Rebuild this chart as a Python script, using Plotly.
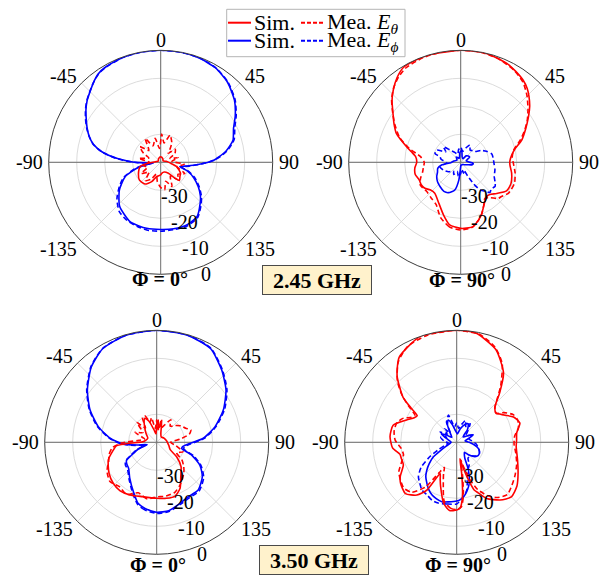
import plotly.graph_objects as go
import math

# ---------------- DATA (theta in deg, clockwise from top; r in dB) ----------------
# 2.45 GHz, Phi = 0 deg
tl_sim_eth_theta = [-180,-164,-155,-144,-130,-118,-102,-95,-80,-60,-30,0,30,60,80,95,105,119,126,134,138,145,160,175,180]
tl_sim_eth_r     = [-35.5,-34.7,-32.4,-30.4,-30.1,-31.0,-32.5,-35.0,-38.5,-39.0,-38.5,-38.0,-38.5,-39.0,-38.0,-36.5,-34.1,-31.9,-31.5,-30.7,-32.3,-35.2,-36.3,-36.0,-35.5]
tl_mea_eth_theta = [-180,-170,-160,-150,-140,-130,-120,-110,-100,-90,-80,-70,-62,-53,-45,-33,-25,-13,-5,2,10,19,25,30,36,40,48,58,67,75,85,95,105,115,125,135,145,155,165,172,180]
tl_mea_eth_r     = [-31.0,-33.0,-35.5,-33.0,-31.5,-34.5,-32.0,-35.0,-33.5,-36.0,-32.0,-35.5,-33.0,-30.7,-34.0,-29.8,-33.5,-31.2,-35.0,-29.9,-33.0,-29.7,-31.0,-32.1,-34.5,-35.8,-33.0,-34.0,-36.4,-33.5,-36.0,-31.5,-34.0,-30.5,-32.5,-31.0,-34.0,-30.5,-33.0,-30.0,-31.0]
tl_sim_eph_theta = [-180,-168,-153,-137,-124,-112,-104,-99,-95,-91,-88,-85,-80,-75,-70,-65,-60,-55,-50,-45,-40,-35,-30,-20,-10,0,10,20,30,40,50,58,65,73,80,85,88,91,94,98,103,108,115,123,130,136,146,157,169,180]
tl_sim_eph_r     = [-16.0,-15.9,-16.1,-18.5,-22.2,-26.3,-31.2,-35.5,-37.5,-32.5,-28.5,-24.5,-18.8,-15.1,-12.8,-11.0,-9.3,-7.4,-5.7,-4.3,-2.7,-1.3,-0.7,-0.2,0,0,0,-0.3,-1.0,-2.8,-5.6,-8.6,-11.3,-13.0,-16.2,-19.3,-21.2,-24.0,-27.1,-30.5,-33.0,-30.0,-27.0,-24.0,-21.5,-19.7,-16.7,-15.8,-15.8,-16.0]
tl_mea_eph_theta = [-180,-170,-160,-150,-140,-130,-120,-112,-104,-99,-95,-91,-88,-85,-80,-75,-70,-65,-60,-55,-50,-45,-40,-35,-30,-20,-10,0,10,20,30,40,50,58,65,73,80,85,88,91,94,98,103,108,115,123,130,136,146,157,169,180]
tl_mea_eph_r     = [-15.4,-15.3,-15.6,-16.0,-17.0,-19.6,-23.0,-25.8,-30.5,-34.0,-36.0,-31.8,-28.0,-24.0,-18.6,-15.0,-12.8,-10.8,-9.0,-7.2,-5.6,-4.2,-2.7,-1.4,-0.8,-0.2,0,0,0,-0.2,-0.9,-2.6,-5.3,-8.2,-10.8,-12.6,-15.8,-18.9,-21.3,-24.2,-27.0,-30.0,-32.4,-29.5,-26.4,-23.5,-21.0,-19.2,-16.3,-15.4,-15.5,-15.4]

# 2.45 GHz, Phi = 90 deg
tr_sim_eth_theta = [-180,-170,-162,-152,-140,-132,-126,-120,-113,-105,-97,-90,-83,-78,-74,-66,-60,-54,-48,-43,-37,-31,-24,-17,0,13,25,31,37,42,46,51,56,63,70,76,82,88,93,102,113,122,131,138,143,150,155,160,165,169,175,180]
tr_sim_eth_r     = [-16.4,-17.3,-20.2,-23.4,-25.6,-25.3,-24.2,-23.8,-23.9,-23.2,-23.5,-24.3,-23.8,-22.0,-19.9,-14.9,-12.5,-10.1,-7.0,-4.7,-2.2,-0.4,-0.1,0,0,0,-1.0,-2.0,-3.1,-4.5,-6.1,-8.3,-10.8,-14.0,-16.8,-20.0,-21.6,-22.4,-22.4,-21.4,-20.5,-20.7,-23.0,-24.5,-24.6,-23.1,-21.3,-19.3,-17.8,-16.6,-16.4,-16.4]
tr_mea_eth_theta = [-180,-170,-160,-150,-140,-130,-120,-112,-104,-97,-90,-82,-75,-68,-60,-54,-48,-42,-36,-30,-20,-10,0,10,20,30,38,45,52,58,64,70,77,84,91,101,111,118,123,130,134,140,146,152,158,164,170,180]
tr_mea_eth_r     = [-15.8,-16.6,-19.0,-22.5,-23.5,-24.0,-23.4,-24.5,-26.0,-26.6,-27.0,-25.5,-21.0,-16.5,-12.8,-10.0,-6.8,-4.2,-2.3,-1.0,-0.3,0,0,0,-0.6,-2.0,-3.8,-6.5,-9.5,-12.0,-14.7,-17.5,-20.6,-21.5,-21.2,-20.2,-19.4,-19.5,-19.7,-21.0,-21.4,-23.5,-24.5,-22.5,-20.0,-18.0,-16.4,-15.8]
tr_sim_eph_theta = [-180,-174,-168,-158,-150,-140,-130,-121,-113,-105,-98,-92,-80,-60,-40,-20,-5,5,15,30,40,50,60,75,88,95,102,110,125,140,160,175,180]
tr_sim_eph_r     = [-38.5,-33.6,-29.9,-28.3,-28.0,-28.6,-29.2,-30.0,-31.0,-31.5,-33.1,-36.5,-37.5,-38.5,-37.5,-38.5,-36.5,-35.8,-38.0,-38.5,-37.0,-36.5,-36.3,-38.0,-37.0,-35.5,-35.8,-37.5,-38.5,-39.0,-39.0,-39.0,-38.5]
tr_mea_eph_theta = [-180,-170,-160,-150,-140,-128,-114,-102,-92,-82,-75,-71,-63,-55,-48,-41,-30,-20,-10,0,10,20,28,38,46,53,60,67,75,83,92,102,113,120,125,131,136,140,145,149,153,158,165,172,180]
tr_mea_eph_r     = [-36.0,-35.0,-36.5,-35.0,-36.0,-34.5,-33.2,-32.4,-35.0,-33.0,-32.3,-30.3,-30.4,-33.5,-31.7,-34.2,-36.0,-37.0,-35.5,-34.5,-36.0,-34.5,-33.0,-34.5,-34.0,-33.6,-31.5,-30.0,-28.5,-28.3,-28.1,-27.5,-27.0,-25.8,-25.0,-25.5,-25.0,-26.5,-28.0,-31.0,-34.5,-37.0,-36.0,-37.5,-36.0]

# 3.50 GHz, Phi = 0 deg
bl_sim_eth_theta = [-180,-165,-153,-143,-133,-123,-110,-100,-95,-92,-88,-80,-65,-50,-38,-30,-26,-20,-12,-5,0,4,8,14,25,40,60,80,95,105,118,126,135,145,153,161,170,180]
bl_sim_eth_r     = [-20.0,-19.9,-18.9,-18.3,-18.7,-19.7,-21.6,-24.3,-25.5,-30.0,-35.0,-36.0,-36.5,-35.0,-33.0,-31.0,-30.5,-32.0,-35.5,-37.0,-34.0,-32.0,-35.0,-33.0,-36.5,-37.5,-37.0,-36.5,-36.0,-35.5,-34.6,-31.2,-27.7,-25.0,-21.6,-19.7,-19.7,-20.0]
bl_mea_eth_theta = [-180,-170,-160,-150,-140,-130,-120,-112,-104,-97,-91,-85,-75,-65,-55,-45,-38,-30,-24,-18,-12,-6,0,6,12,18,25,32,40,48,56,64,70,76,82,90,100,110,118,125,132,138,145,152,160,170,180]
bl_mea_eth_r     = [-20.5,-19.5,-20.8,-18.5,-19.3,-18.2,-19.5,-21.5,-22.5,-24.0,-27.5,-33.0,-35.5,-31.5,-34.0,-30.0,-33.5,-29.8,-29.6,-32.5,-31.0,-35.0,-32.0,-35.5,-31.5,-34.5,-33.0,-30.5,-32.5,-31.0,-29.5,-28.5,-27.0,-28.0,-31.5,-35.0,-33.0,-30.0,-32.0,-29.0,-27.0,-25.5,-24.0,-22.5,-21.0,-20.5,-20.5]
bl_sim_eph_theta = [-180,-170,-163,-155,-143,-133,-126,-121,-117,-110,-104,-98,-93,-85,-75,-64,-53,-41,-30,-16,0,16,30,42,53,64,75,85,93,99,104,110,118,127,139,150,159,170,180]
bl_sim_eph_r     = [-15.0,-16.0,-17.2,-20.4,-24.0,-26.3,-26.8,-27.4,-30.0,-33.0,-36.5,-33.0,-28.1,-23.3,-18.4,-13.5,-9.0,-4.4,-1.4,-0.2,0,-0.2,-1.4,-5.3,-9.0,-13.5,-18.4,-23.3,-28.7,-30.5,-30.8,-26.7,-22.5,-19.6,-17.4,-17.5,-16.7,-15.2,-15.0]
bl_mea_eph_theta = [-180,-170,-163,-155,-143,-133,-126,-121,-117,-110,-104,-98,-93,-85,-75,-64,-53,-41,-30,-16,0,16,30,42,53,64,75,85,93,99,104,110,118,127,139,150,159,170,180]
bl_mea_eph_r     = [-14.6,-15.5,-16.8,-19.8,-23.6,-25.8,-26.2,-27.0,-29.5,-32.5,-35.5,-32.2,-27.6,-23.0,-18.0,-13.2,-8.7,-4.2,-1.3,-0.2,0,-0.1,-1.2,-5.0,-8.6,-13.0,-18.0,-22.8,-28.0,-30.0,-30.0,-26.0,-22.0,-19.0,-16.9,-17.0,-16.3,-14.9,-14.6]

# 3.50 GHz, Phi = 90 deg
br_sim_eth_theta = [-180,-174,-168,-160,-156,-152,-148,-143,-135,-126,-121,-113,-106,-102,-95,-85,-75,-66,-60,-56,-53,-50,-42,-34,-19,0,10,23,34,41,47,53,60,66,73,81,88,94,106,117,126,135,143,152,157,160,163,166,169,171,174,177,180]
br_sim_eth_r     = [-15.8,-15.5,-17.7,-23.2,-25.5,-27.4,-19.9,-16.4,-14.1,-15.2,-16.5,-19.3,-19.4,-19.3,-17.0,-16.1,-16.5,-20.4,-22.5,-23.0,-19.5,-15.0,-8.2,-3.3,0,0,-0.4,-4.1,-10.1,-16.6,-21.3,-22.5,-20.5,-17.8,-16.4,-18.3,-18.6,-18.7,-17.4,-15.4,-13.4,-12.4,-14.2,-17.3,-20.4,-22.0,-26.5,-31.0,-34.0,-28.5,-20.5,-16.5,-15.8]
br_mea_eth_theta = [-180,-175,-168,-162,-157,-154,-150,-145,-138,-131,-124,-117,-110,-103,-96,-88,-80,-72,-66,-61,-57,-53,-49,-44,-36,-27,-15,0,12,22,30,38,44,49,54,58,64,70,77,84,92,100,110,120,128,136,144,150,156,160,164,167,170,173,176,180]
br_mea_eth_r     = [-16.0,-16.3,-18.5,-24.5,-28.0,-30.0,-27.5,-20.5,-16.0,-15.0,-15.8,-16.8,-19.0,-20.5,-20.0,-18.0,-17.3,-17.5,-19.0,-21.5,-22.2,-18.5,-14.0,-9.5,-4.5,-1.5,-0.3,0,-0.6,-3.4,-7.5,-14.5,-19.5,-22.0,-22.5,-20.0,-17.5,-16.8,-17.4,-19.2,-19.5,-18.6,-17.2,-16.0,-15.0,-14.0,-15.6,-18.0,-21.5,-25.5,-30.5,-33.5,-28.0,-20.5,-16.8,-16.0]
br_sim_eph_theta = [-180,-172,-166,-160,-155,-149,-144,-138,-133,-128,-122,-117,-110,-100,-90,-75,-62,-55,-45,-35,-28,-21,-14,-5,5,15,25,32,40,50,60,66,72,80,90,102,109,116,122,128,133,137,142,147,153,157,163,167,171,176,180]
br_sim_eph_r     = [-19.0,-18.5,-18.1,-18.6,-19.2,-20.5,-21.9,-23.5,-25.4,-27.5,-30.2,-33.5,-36.0,-37.5,-38.0,-37.0,-33.8,-35.5,-37.5,-36.0,-33.0,-31.5,-33.5,-36.0,-37.0,-35.0,-33.0,-32.2,-34.0,-37.0,-35.0,-33.5,-35.5,-37.0,-35.5,-32.7,-31.5,-31.0,-31.0,-31.7,-33.0,-33.9,-35.5,-35.0,-33.6,-29.3,-24.7,-22.7,-21.0,-19.6,-19.0]
br_mea_eph_theta = [-180,-171,-163,-157,-150,-144,-138,-132,-125,-118,-112,-105,-95,-85,-72,-64,-58,-50,-42,-35,-27,-20,-17,-13,-8,0,8,15,22,30,36,45,55,65,75,85,95,105,115,125,135,145,150,155,161,168,174,180]
br_mea_eph_r     = [-18.0,-17.7,-17.3,-17.5,-18.5,-18.9,-20.3,-21.6,-24.5,-29.2,-33.0,-35.5,-37.0,-35.5,-34.0,-36.0,-33.0,-35.5,-33.5,-36.0,-32.0,-30.5,-29.8,-32.5,-34.5,-33.0,-35.0,-33.5,-31.5,-33.5,-31.8,-34.5,-36.0,-34.0,-35.5,-34.5,-33.0,-32.0,-31.0,-31.5,-33.0,-33.0,-31.0,-30.0,-28.3,-22.6,-20.0,-18.0]

angle_tickvals = [0, 45, 90, 135, 225, 270, 315]
angle_ticktext = ["0", "45", "90", "135", "-135", "-90", "-45"]
radial_tickvals = [-30, -20, -10, 0]
radial_ticktext = ["-30", "-20", "-10", "0"]
plane_titles = ["Φ = 0°", "Φ = 90°", "Φ = 0°", "Φ = 90°"]
freq_labels = ["2.45 GHz", "3.50 GHz"]
legend_labels = ["Sim.", "Sim.", "Mea. <i>E</i><sub><i>θ</i></sub>", "Mea. <i>E</i><sub><i>ϕ</i></sub>"]

# ---------------- FIGURE ----------------
W, H = 607, 580
FONT = "Liberation Serif"
RED, BLUE = "#ff0000", "#0000ff"
DASH = "5px,3px"
R_MIN, R_MAX = -40, 0
RAD = 112
LABEL_COMPASS = 158.0   # direction (deg clockwise from top) of the radial tick labels
ANG_GAP = 4             # gap between circle and angular labels (px)

panels = [
    ("polar",  160.7, 162.3, tl_sim_eth_theta, tl_sim_eth_r, tl_mea_eth_theta, tl_mea_eth_r,
     tl_sim_eph_theta, tl_sim_eph_r, tl_mea_eph_theta, tl_mea_eph_r),
    ("polar2", 460.7, 162.3, tr_sim_eth_theta, tr_sim_eth_r, tr_mea_eth_theta, tr_mea_eth_r,
     tr_sim_eph_theta, tr_sim_eph_r, tr_mea_eph_theta, tr_mea_eph_r),
    ("polar3", 156.7, 442.3, bl_sim_eth_theta, bl_sim_eth_r, bl_mea_eth_theta, bl_mea_eth_r,
     bl_sim_eph_theta, bl_sim_eph_r, bl_mea_eph_theta, bl_mea_eph_r),
    ("polar4", 456.7, 442.3, br_sim_eth_theta, br_sim_eth_r, br_mea_eth_theta, br_mea_eth_r,
     br_sim_eph_theta, br_sim_eph_r, br_mea_eph_theta, br_mea_eph_r),
]

fig = go.Figure()
layout = dict(width=W, height=H, margin=dict(l=0, r=0, t=0, b=0),
              paper_bgcolor="white", plot_bgcolor="white", showlegend=False,
              font=dict(family=FONT, size=20, color="black"))
annotations = []


def paper_annot(text, x, y, xanchor="center", yanchor="middle", size=20):
    return dict(text=text, x=x / W, y=1 - y / H, xref="paper", yref="paper", showarrow=False,
                xanchor=xanchor, yanchor=yanchor, font=dict(family=FONT, size=size, color="black"))


for (pid, cx, cy, t1, r1, t2, r2, t3, r3, t4, r4) in panels:
    fig.add_trace(go.Scatterpolar(theta=[0, 0, 180, None, 90, 90, 270], r=[R_MAX, R_MIN, R_MAX, None, R_MAX, R_MIN, R_MAX],
                                  mode="lines", line=dict(color="#6e6e6e", width=1),
                                  hoverinfo="skip", subplot=pid, showlegend=False))
    for th, rr, col, dash in [(t3, r3, BLUE, "solid"), (t4, r4, BLUE, DASH),
                              (t1, r1, RED, "solid"), (t2, r2, RED, DASH)]:
        fig.add_trace(go.Scatterpolar(theta=th, r=rr, mode="lines", subplot=pid,
                                      line=dict(color=col, width=1.6, dash=dash, shape="spline", smoothing=0.6),
                                      showlegend=False))
    layout[pid] = dict(
        domain=dict(x=[(cx - RAD) / W, (cx + RAD) / W], y=[1 - (cy + RAD) / H, 1 - (cy - RAD) / H]),
        bgcolor="white",
        angularaxis=dict(rotation=90, direction="clockwise", tickmode="array",
                         tickvals=angle_tickvals, showticklabels=False, ticks="",
                         showgrid=True, gridcolor="#dcdcdc", gridwidth=1,
                         showline=True, linecolor="#3c3c3c", linewidth=1),
        radialaxis=dict(range=[R_MIN, R_MAX], tickmode="array", tickvals=radial_tickvals,
                        showticklabels=False, showline=False, ticks="",
                        showgrid=True, gridcolor="#dcdcdc", gridwidth=1),
    )
    # angular tick labels, anchored just outside the circle
    for v, txt in zip(angle_tickvals, angle_ticktext):
        a = math.radians(v)
        s, c = math.sin(a), math.cos(a)
        x = cx + (RAD + ANG_GAP) * s
        y = cy - (RAD + ANG_GAP) * c
        xa = "left" if s > 0.1 else ("right" if s < -0.1 else "center")
        if c > 0.1:
            y -= 6 if c > 0.9 else 4
        elif c < -0.1:
            y += 5
        annotations.append(paper_annot(txt, x, y, xanchor=xa))
    # radial tick labels, placed just outside each ring along the label direction
    a = math.radians(LABEL_COMPASS)
    for v, txt in zip(radial_tickvals, radial_ticktext):
        rp = (v - R_MIN) / (R_MAX - R_MIN) * RAD + 8
        annotations.append(paper_annot(txt, cx + rp * math.sin(a), cy - rp * math.cos(a)))

title_pos = [(160, 279), (462, 280), (158, 565), (458, 565)]
for txt, (x, y) in zip(plane_titles, title_pos):
    annotations.append(paper_annot("<b>%s</b>" % txt, x, y))
box_pos = [(317, 280), (314, 560)]
for txt, (x, y) in zip(freq_labels, box_pos):
    ann = paper_annot("<b>%s</b>" % txt, x, y, size=22)
    ann.update(width=108, height=28, borderpad=0, bgcolor="#fff2cc", bordercolor="#4a4a4a", borderwidth=1)
    annotations.append(ann)

# manual legend (2 x 2)
shapes = [dict(type="rect", xref="paper", yref="paper", x0=226.7 / W, x1=405 / W,
               y0=1 - 56.7 / H, y1=1 - 9.3 / H, line=dict(color="#b4b4b4", width=1), fillcolor="white",
               layer="below")]
leg_items = [(legend_labels[0], RED, "solid", 228, 22.7), (legend_labels[1], BLUE, "solid", 228, 40.7),
             (legend_labels[2], RED, "dash", 301, 22.7), (legend_labels[3], BLUE, "dash", 301, 40.7)]
for lab, col, dsh, x0, y in leg_items:
    shapes.append(dict(type="line", xref="paper", yref="paper", x0=x0 / W, x1=(x0 + 23) / W,
                       y0=1 - y / H, y1=1 - y / H, line=dict(color=col, width=2, dash=dsh if dsh == "solid" else "4px,2px")))
    annotations.append(paper_annot(lab, x0 + 24, y, xanchor="left", size=22))

layout["annotations"] = annotations
layout["shapes"] = shapes
fig.update_layout(**layout)
fig.write_html("out.html")
